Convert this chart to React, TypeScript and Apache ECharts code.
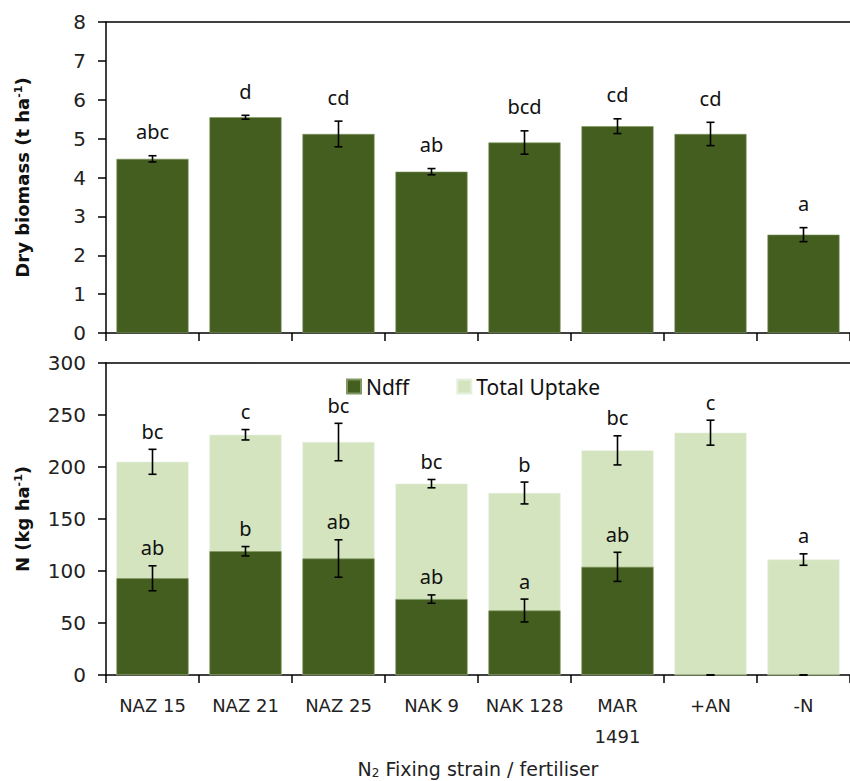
import React, { useEffect, useRef } from "react";
import * as echarts from "echarts";

const categories = ["NAZ 15", "NAZ 21", "NAZ 25", "NAK 9", "NAK 128", "MAR\n1491", "+AN", "-N"];
const biomass = [4.48, 5.55, 5.12, 4.15, 4.9, 5.32, 5.12, 2.53];
const biomassErr = [0.08, 0.05, 0.33, 0.08, 0.3, 0.19, 0.3, 0.18];
const biomassLetters = ["abc", "d", "cd", "ab", "bcd", "cd", "cd", "a"];
const totalUptake = [205, 231, 224, 184, 175, 216, 233, 111];
const totalErr = [12, 5, 18, 4, 10.5, 14, 12, 5.5];
const totalLetters = ["bc", "c", "bc", "bc", "b", "bc", "c", "a"];
const ndff = [93, 119, 112, 73, 62, 104, 0, 0];
const ndffErr = [12, 4.5, 18, 4, 11, 14, 0, 0];
const ndffLetters = ["ab", "b", "ab", "ab", "a", "ab", "", ""];
const biomassTicks = { min: 0, max: 8, interval: 1 };
const nTicks = { min: 0, max: 300, interval: 50 };

const DARK = "#445e1f";
const LIGHT = "#d3e4be";
const LETTER_FONT = "'Noto Sans', 'Open Sans', sans-serif";
const AXIS_FONT = "'DejaVu Sans', 'Liberation Sans', sans-serif";

function errorSeries(
  values: number[],
  errs: number[],
  letters: string[],
  axisIndex: number,
  offset: number
) {
  return {
    type: "custom",
    xAxisIndex: axisIndex,
    yAxisIndex: axisIndex,
    z: 10,
    silent: true,
    data: values.map((v, i) => [i, v, errs[i]]),
    encode: { x: 0, y: 1 },
    renderItem: (params: any, api: any) => {
      const i = api.value(0);
      const v = api.value(1);
      const e = api.value(2);
      const hi = api.coord([i, v + e]);
      const lo = api.coord([i, v - e]);
      const x = hi[0];
      const cap = 4;
      const ls = { stroke: "#000", lineWidth: 1.6 };
      return {
        type: "group",
        children: [
          { type: "line", shape: { x1: x, y1: hi[1], x2: x, y2: lo[1] }, style: ls },
          { type: "line", shape: { x1: x - cap, y1: hi[1], x2: x + cap, y2: hi[1] }, style: ls },
          { type: "line", shape: { x1: x - cap, y1: lo[1], x2: x + cap, y2: lo[1] }, style: ls },
          {
            type: "text",
            style: {
              text: letters[params.dataIndex],
              x: x,
              y: hi[1] - offset,
              align: "center",
              verticalAlign: "middle",
              fontSize: 20,
              fontFamily: LETTER_FONT,
              fill: "#111",
            },
          },
        ],
      };
    },
  };
}

export default function App() {
  const ref = useRef<HTMLDivElement>(null);
  useEffect(() => {
    document.body.style.margin = "0";
    if (!ref.current) return;
    const chart = echarts.init(ref.current, undefined, { renderer: "svg" });
    const axisLine = { show: true, lineStyle: { color: "#000", width: 1.5 } };
    const tick = { show: true, length: 8, lineStyle: { color: "#000", width: 1.5 } };
    const yLabel = { fontSize: 20, color: "#222", fontFamily: AXIS_FONT, margin: 20 };
    const yName = {
      fontSize: 18,
      fontWeight: "bold",
      color: "#111",
      fontFamily: AXIS_FONT,
      rich: {
        sup: { fontSize: 11, fontWeight: "bold", verticalAlign: "top", padding: [0, 0, 8, 0], fontFamily: AXIS_FONT, color: "#111" },
      },
    };
    chart.setOption({
      animation: false,
      grid: [
        { left: 106, right: -10, top: 22, height: 311 },
        { left: 106, right: -10, top: 363, height: 312 },
      ],
      legend: {
        data: ["Ndff", "Total Uptake"],
        left: 341,
        top: 371,
        icon: "rect",
        itemWidth: 14,
        itemHeight: 14,
        itemGap: 47,
        textStyle: { fontSize: 21, color: "#111", fontFamily: LETTER_FONT },
      },
      xAxis: [
        {
          type: "category",
          gridIndex: 0,
          data: categories,
          axisLine,
          axisTick: tick,
          axisLabel: { show: false },
        },
        {
          type: "category",
          gridIndex: 1,
          data: categories,
          axisLine,
          axisTick: tick,
          axisLabel: {
            interval: 0,
            hideOverlap: false,
            fontSize: 18,
            color: "#222",
            fontFamily: AXIS_FONT,
            margin: 15,
            lineHeight: 31,
            verticalAlign: "top",
          },
          name: "N{sub|2} Fixing strain / fertiliser",
          nameLocation: "middle",
          nameGap: 84,
          nameTextStyle: {
            fontSize: 19,
            color: "#222",
            fontFamily: AXIS_FONT,
            rich: { sub: { fontSize: 12, verticalAlign: "bottom", padding: [8, 0, 0, 0], fontFamily: AXIS_FONT, color: "#222" } },
          },
        },
        {
          type: "category",
          gridIndex: 0,
          position: "top",
          data: categories,
          axisLine,
          axisTick: { show: false },
          axisLabel: { show: false },
        },
        {
          type: "category",
          gridIndex: 1,
          position: "top",
          data: categories,
          axisLine,
          axisTick: { show: false },
          axisLabel: { show: false },
        },
      ],
      yAxis: [
        {
          type: "value",
          gridIndex: 0,
          ...biomassTicks,
          axisLine,
          axisTick: tick,
          splitLine: { show: false },
          axisLabel: yLabel,
          name: "Dry biomass (t ha{sup|-1})",
          nameLocation: "middle",
          nameGap: 74,
          nameTextStyle: yName,
        },
        {
          type: "value",
          gridIndex: 1,
          ...nTicks,
          axisLine,
          axisTick: tick,
          splitLine: { show: false },
          axisLabel: yLabel,
          name: "N (kg ha{sup|-1})",
          nameLocation: "middle",
          nameGap: 74,
          nameTextStyle: yName,
        },
      ],
      series: [
        {
          type: "bar",
          name: "Dry biomass",
          xAxisIndex: 0,
          yAxisIndex: 0,
          data: biomass,
          barWidth: "77.5%",
          itemStyle: { color: DARK, borderColor: "#7f9760", borderWidth: 0.6 },
        },
        errorSeries(biomass, biomassErr, biomassLetters, 0, 24),
        {
          type: "bar",
          name: "Total Uptake",
          xAxisIndex: 1,
          yAxisIndex: 1,
          data: totalUptake,
          barWidth: "77.5%",
          barGap: "-100%",
          itemStyle: { color: LIGHT, borderColor: "#e6efdb", borderWidth: 0.6 },
        },
        {
          type: "bar",
          name: "Ndff",
          xAxisIndex: 1,
          yAxisIndex: 1,
          data: ndff,
          barWidth: "77.5%",
          barGap: "-100%",
          itemStyle: { color: DARK, borderColor: "#7f9760", borderWidth: 0.6 },
        },
        errorSeries(totalUptake, totalErr, totalLetters, 1, 18),
        errorSeries(ndff, ndffErr, ndffLetters, 1, 18),
      ],
    });
    return () => chart.dispose();
  }, []);
  return <div ref={ref} style={{ width: 850, height: 781 }} />;
}
